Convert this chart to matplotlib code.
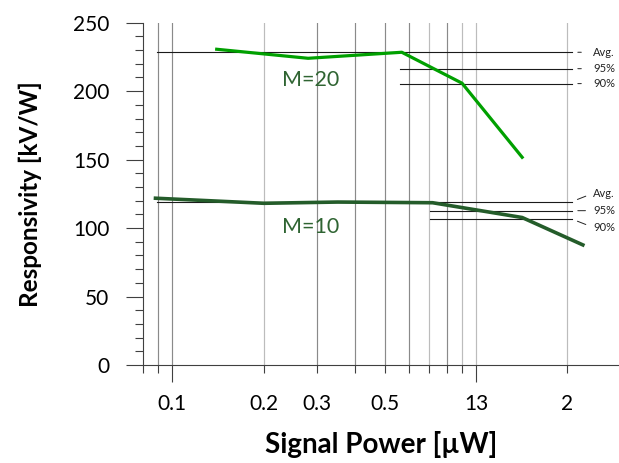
import matplotlib
matplotlib.use("Agg")
from matplotlib import pyplot as plt
from matplotlib.ticker import FixedLocator, FixedFormatter

plt.rcParams["font.family"] = ["Lato", "DejaVu Sans"]

# measured curves (signal power in uW, responsivity in kV/W)
power_m20 = [0.14, 0.28, 0.57, 0.90, 1.42]
resp_m20 = [230.6, 224.0, 228.4, 205.8, 151.7]
power_m10 = [0.088, 0.20, 0.35, 0.72, 1.42, 2.25]
resp_m10 = [121.8, 118.1, 119.0, 118.5, 107.7, 87.7]

# reference levels: Avg., 95%, 90%
ref_labels = ["Avg.", "95%", "90%"]
ref_m20 = [228.4, 216.4, 205.5]
ref_m10 = [119.3, 112.7, 106.6]
ref_start_m20 = [0.089, 0.563, 0.563]
ref_start_m10 = [0.089, 0.707, 0.707]
ref_end = 2.07

grid_x = [0.09, 0.1, 0.2, 0.3, 0.4, 0.5, 0.6, 0.7, 0.8, 0.9, 1, 2]
grid_dark = [0.09, 0.1, 0.3, 0.4, 0.5, 0.6, 0.8]
major_x = [0.1, 1]
minor_x = [0.08, 0.09, 0.2, 0.3, 0.4, 0.5, 0.6, 0.7, 0.8, 0.9, 2]
major_labels = ["0.1", "13"]
minor_labels = {0.2: "0.2", 0.3: "0.3", 0.5: "0.5", 2: "2"}

fig = plt.figure(figsize=(6.19, 4.63), dpi=100)
ax = fig.add_axes([0.2309, 0.2117, 0.7691, 0.7393])
ax.set_xscale("log")
ax.set_xlim(0.08, 2.96)
ax.set_ylim(0, 250)

for x in grid_x:
    c = "#8a8a8a" if x in grid_dark else "#bcbcbc"
    ax.axvline(x, color=c, lw=0.85, zorder=1)

# reference lines
for vals, starts in [(ref_m20, ref_start_m20), (ref_m10, ref_start_m10)]:
    for v, s in zip(vals, starts):
        ax.plot([s, ref_end], [v, v], color="#1a1a1a", lw=0.8, zorder=2)

ax.plot(power_m20, resp_m20, color="#00a000", lw=2.3, zorder=3)
ax.plot(power_m10, resp_m10, color="#245c2a", lw=2.6, zorder=3)

# side labels
ann = dict(textcoords="offset points", ha="left", va="center", fontsize=8, color="#222222")
for lab, v in zip(ref_labels, ref_m20):
    ax.annotate(lab, xy=(ref_end, v), xytext=(15.3, 0),
                arrowprops=dict(arrowstyle="-", color="#222222", lw=0.7,
                                shrinkA=6.5, shrinkB=4.3, relpos=(0, 0.5)), **ann)
for lab, v, dy in zip(ref_labels, ref_m10, [6, 0, -6]):
    ax.annotate(lab, xy=(ref_end, v), xytext=(15.3, dy),
                arrowprops=dict(arrowstyle="-", color="#222222", lw=0.7,
                                shrinkA=3.5, shrinkB=4.3, relpos=(0, 0.5)), **ann)

ax.text(0.285, 208, "M=20", fontsize=15.5, color="#2f6432", ha="center", va="center")
ax.text(0.285, 101, "M=10", fontsize=15.5, color="#2f6432", ha="center", va="center")

for side in ["top", "right"]:
    ax.spines[side].set_visible(False)
for side in ["left", "bottom"]:
    ax.spines[side].set_color("#404040")
    ax.spines[side].set_linewidth(0.8)

ax.xaxis.set_major_locator(FixedLocator(major_x))
ax.xaxis.set_major_formatter(FixedFormatter(major_labels))
ax.xaxis.set_minor_locator(FixedLocator(minor_x))
ax.xaxis.set_minor_formatter(FixedFormatter([minor_labels.get(x, "") for x in minor_x]))
ax.tick_params(axis="x", which="major", length=12.2, width=0.8, color="#404040",
               pad=9, labelsize=15)
ax.tick_params(axis="x", which="minor", length=5.8, width=0.8, color="#404040",
               pad=15.4, labelsize=15)

ax.set_yticks(range(0, 251, 50))
ax.set_yticks(range(0, 251, 10), minor=True)
ax.tick_params(axis="y", which="major", length=12.2, width=0.8, color="#404040",
               pad=12, labelsize=15)
ax.tick_params(axis="y", which="minor", length=5.8, width=0.8, color="#404040")

fig.text(0.6155, 0.041, "Signal Power [\u00b5W]", fontsize=20, fontweight="bold",
         ha="center", va="center")
fig.text(0.0485, 0.581, "Responsivity [kV/W]", fontsize=17.5, fontweight="bold",
         ha="center", va="center", rotation=90)

fig.savefig("out.png", dpi=100)
